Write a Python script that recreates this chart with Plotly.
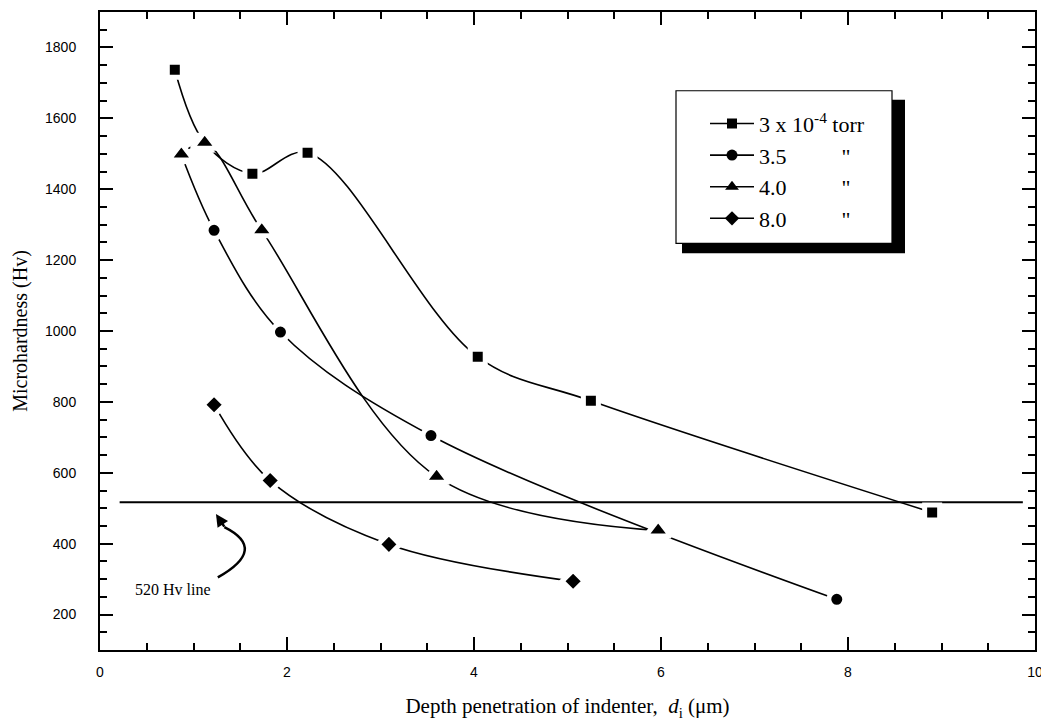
import plotly.graph_objects as go

# ---- data ----
sq_x = [0.80, 1.12, 1.63, 2.22, 4.04, 5.25, 8.90]
sq_y = [1737, 1531, 1444, 1503, 927, 803, 488]

ci_x = [0.87, 1.22, 1.93, 3.54, 7.88]
ci_y = [1498, 1284, 997, 705, 243]

tr_x = [0.87, 1.12, 1.73, 3.60, 5.97]
tr_y = [1498, 1531, 1284, 589, 437]

di_x = [1.22, 1.82, 3.09, 5.06]
di_y = [792, 578, 398, 294]

ref_x = [0.21, 9.87]
ref_y = [517, 517]

NB = "\u00a0"
# name, x, y, symbol, plotted marker size (incl. white halo), legend marker size
series = [
    ("3 x 10<sup>-4</sup> torr", sq_x, sq_y, "square", 15, 10),
    ("3.5" + NB * 10 + "\"", ci_x, ci_y, "circle", 16, 11),
    ("4.0" + NB * 10 + "\"", tr_x, tr_y, "triangle-up", 22, 12),
    ("8.0" + NB * 10 + "\"", di_x, di_y, "diamond", 17, 11),
]

SERIF = "Liberation Serif, Times New Roman, serif"
SANS = "Liberation Sans, Arial, sans-serif"

# page geometry (the html body adds an 8 px margin)
PL, PR, PT, PB = 100, 1035, 10, 650
PW, PH = PR - PL, PB - PT


def px(x):
    return (x - PL) / PW


def py(y):
    return (PB - y) / PH


fig = go.Figure()

fig.add_trace(go.Scatter(x=ref_x, y=ref_y, mode="lines",
                         line=dict(color="black", width=2), showlegend=False,
                         hoverinfo="skip"))

GAP = 5
for name, xs, ys, sym, msz, lsz in series:
    fig.add_trace(go.Scatter(
        x=xs, y=ys, mode="lines+markers", showlegend=False,
        line=dict(color="black", width=1.6, shape="spline", smoothing=1.0),
        marker=dict(symbol=sym, size=msz, color="black",
                    line=dict(color="white", width=GAP)),
    ))

for name, xs, ys, sym, msz, lsz in series:
    fig.add_trace(go.Scatter(
        x=[None], y=[None], mode="lines+markers", name=name,
        line=dict(color="black", width=1.6),
        marker=dict(symbol=sym, size=lsz, color="black"),
    ))

# legend box + shadow
fig.add_shape(type="rect", xref="paper", yref="paper",
              x0=px(682), x1=px(905), y0=py(252), y1=py(98),
              fillcolor="black", line=dict(width=0), layer="above")
fig.add_shape(type="rect", xref="paper", yref="paper",
              x0=px(676), x1=px(892), y0=py(242), y1=py(89),
              fillcolor="white", line=dict(color="black", width=1.2), layer="above")

# curved arrow for the reference-line note
fig.add_shape(type="path", xref="x", yref="y",
              path="M 1.26,305 Q 1.80,385 1.33,447",
              line=dict(color="black", width=2.5))
fig.add_annotation(x=1.24, y=484, ax=1.34, ay=444, xref="x", yref="y",
                   axref="x", ayref="y", text="", showarrow=True,
                   arrowhead=2, arrowsize=1.0, arrowwidth=2.5, arrowcolor="black")
fig.add_annotation(x=0.35, y=271, xref="x", yref="y", text="520 Hv line",
                   showarrow=False, xanchor="left",
                   font=dict(family=SERIF, size=16, color="black"))

axis_common = dict(
    showgrid=False, zeroline=False, showline=True, linecolor="black", linewidth=2,
    mirror="ticks", ticks="inside", tickwidth=2, tickcolor="black",
    tickfont=dict(family=SANS, size=14, color="black"),
)

fig.update_xaxes(range=[0, 10], tick0=0, dtick=2, ticklen=13,
                 minor=dict(ticks="inside", dtick=0.5, ticklen=7, tickwidth=2, tickcolor="black"),
                 ticklabelstandoff=8,
                 title=dict(text="Depth penetration of indenter," + NB * 2 + "<i>d</i><sub>i</sub>" + NB + "(\u03bcm)",
                            font=dict(family=SERIF, size=21, color="black"), standoff=20),
                 **axis_common)
fig.update_yaxes(range=[100, 1900], tick0=0, dtick=200, ticklen=13,
                 minor=dict(ticks="inside", dtick=50, ticklen=7, tickwidth=2, tickcolor="black"),
                 ticklabelstandoff=19,
                 title=dict(text="Microhardness (Hv)",
                            font=dict(family=SERIF, size=20, color="black"), standoff=12),
                 **axis_common)

fig.update_layout(
    width=1041, height=717,
    margin=dict(l=PL - 8, r=1041 - (PR - 8), t=PT - 8, b=717 - (PB - 8)),
    paper_bgcolor="white", plot_bgcolor="white",
    showlegend=True,
    legend=dict(x=px(705), y=py(101), xanchor="left", yanchor="top",
                bgcolor="rgba(0,0,0,0)", borderwidth=0,
                font=dict(family=SERIF, size=22, color="black"),
                tracegroupgap=0, itemwidth=44),
)

fig.write_html("out.html")
